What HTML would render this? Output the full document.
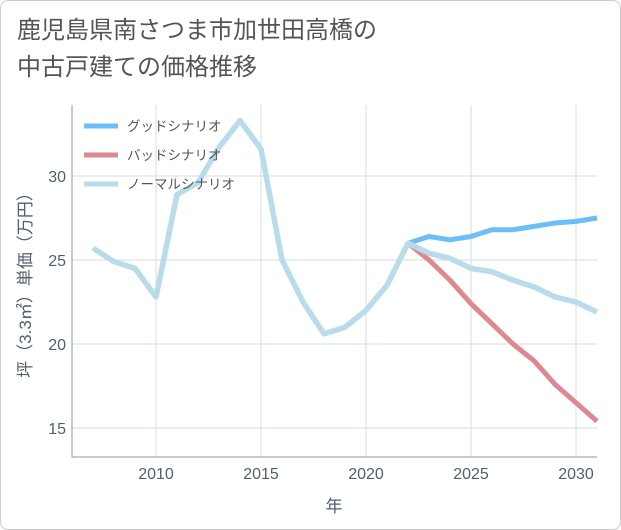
<!DOCTYPE html>
<html><head><meta charset="utf-8">
<style>
body{margin:0;background:#fff;}
#wrap{position:relative;width:621px;height:530px;}
#frame{position:absolute;left:0;top:0;width:619px;height:528px;border:1px solid #ccc;border-radius:8px;background:#fff;}
#title{position:absolute;left:17px;top:12px;font-family:"Liberation Sans","Noto Sans CJK JP",sans-serif;font-size:24px;line-height:37px;color:#555;}
svg{position:absolute;left:0;top:0;}
text{font-family:"Liberation Sans","Noto Sans CJK JP",sans-serif;}
</style></head><body>
<div id="wrap">
<div id="frame"></div>
<div id="title">鹿児島県南さつま市加世田高橋の<br>中古戸建ての価格推移</div>
<svg id="chart" width="621" height="530"></svg>
</div>
<script>
const years=[2007,2008,2009,2010,2011,2012,2013,2014,2015,2016,2017,2018,2019,2020,2021,2022,2023,2024,2025,2026,2027,2028,2029,2030,2031];
const normal=[25.7,24.9,24.5,22.8,28.9,29.6,31.7,33.3,31.6,25.0,22.5,20.6,21.0,22.0,23.5,26.0,25.4,25.1,24.5,24.3,23.8,23.4,22.8,22.5,21.9];
const futureYears=[2022,2023,2024,2025,2026,2027,2028,2029,2030,2031];
const good=[26.0,26.4,26.2,26.4,26.8,26.8,27.0,27.2,27.3,27.5];
const bad=[26.0,25.0,23.8,22.4,21.2,20.0,19.0,17.6,16.5,15.4];
const xTicks=[2010,2015,2020,2025,2030];
const yTicks=[15,20,25,30];
const L=72,R=597,T=105,B=457;
const x=v=>L+(v-2006)*(R-L)/25;
const y=v=>260-(v-25)*16.8;
const svg=document.getElementById('chart');
const NS='http://www.w3.org/2000/svg';
function mk(tag,attrs){const e=document.createElementNS(NS,tag);for(const k in attrs)e.setAttribute(k,attrs[k]);svg.appendChild(e);return e;}
xTicks.forEach(t=>{const l=mk('line',{x1:x(t),x2:x(t),y1:T,y2:B,stroke:'#d5dde5','stroke-width':1});


const tx=mk('text',{x:x(t),y:B+22,'text-anchor':'middle','font-size':16,fill:'#506070'});tx.textContent=t;

});
yTicks.forEach(t=>{const l=mk('line',{x1:L,x2:R,y1:y(t),y2:y(t),stroke:'#d5dde5','stroke-width':1});


const tx=mk('text',{x:L-6,y:y(t)+6,'text-anchor':'end','font-size':16,fill:'#506070'});tx.textContent=t;

});
const ax=mk('polyline',{points:`${L},${T} ${L},${B} ${R},${B}`,fill:'none',stroke:'#8a99a8','stroke-width':1});


function line(xs,ys,color,name,w){const p=mk('polyline',{points:xs.map((v,i)=>x(v)+','+y(ys[i])).join(' '),fill:'none',stroke:color,'stroke-width':w,'stroke-linejoin':'round'});

}
line(futureYears,good,'#6bbff5','good-scenario-line',5);
line(futureYears,bad,'#dc8a90','bad-scenario-line',5);
line(years,normal,'#b8dcea','normal-scenario-line',5.5);
const leg=[['グッドシナリオ','#6bbff5'],['バッドシナリオ','#dc8a90'],['ノーマルシナリオ','#b8dcea']];
leg.forEach((d,i)=>{const yy=126+i*29;
const l=mk('line',{x1:84,x2:118,y1:yy,y2:yy,stroke:d[1],'stroke-width':5});


const t=mk('text',{x:127,y:yy+5,'font-size':13.5,fill:'#555'});t.textContent=d[0];

});
const xt=mk('text',{x:334,y:512,'text-anchor':'middle','font-size':17,fill:'#506070'});xt.textContent='年';


const yt=mk('text',{x:0,y:0,'text-anchor':'middle','font-size':17,fill:'#506070',transform:'translate(31,281) rotate(-90)'});yt.textContent='坪（3.3㎡）単価（万円）';


</script>
</body></html>
